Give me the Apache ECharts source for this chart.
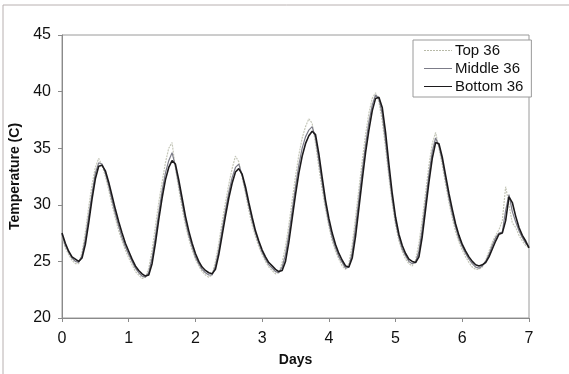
<!DOCTYPE html>
<html>
<head>
<meta charset="utf-8">
<script src="https://cdn.jsdelivr.net/npm/echarts@6/dist/echarts.min.js"></script>
<style>
  html, body { margin: 0; padding: 0; background: #fff; }
  #chart { width: 569px; height: 374px; }
</style>
</head>
<body>
<div id="chart"></div>
<script>
// Sampling step of the logged temperatures, in days
const STEP = 0.05;

// Temperature (C) readings, one row per half day
const top36 = [
  27.2, 26.2, 25.6, 25.1, 24.8, 24.8, 25.8, 27.6, 29.8, 31.8,
  33.3, 34.1, 33.5, 32.5, 31.3, 30.0, 28.8, 27.7, 26.8, 26.0,
  25.3, 24.7, 24.1, 23.8, 23.5, 23.6, 24.4, 26.0, 28.1, 30.2,
  32.0, 33.7, 35.0, 35.5, 33.2, 31.4, 29.7, 28.2, 27.0, 26.0,
  25.2, 24.6, 24.1, 23.8, 23.6, 23.8, 25.0, 26.6, 28.5, 30.2,
  31.8, 33.2, 34.3, 33.8, 32.4, 31.0, 29.5, 28.2, 27.2, 26.3,
  25.6, 25.0, 24.5, 24.2, 23.9, 24.0, 24.9, 26.3, 28.2, 30.4,
  32.5, 34.4, 35.9, 36.9, 37.6, 37.2, 35.4, 33.3, 31.3, 29.6,
  28.1, 26.8, 25.9, 25.2, 24.6, 24.3, 24.8, 26.5, 28.9, 31.4,
  33.9, 36.2, 38.1, 39.4, 39.9, 39.1, 37.4, 35.0, 32.4, 30.1,
  28.2, 26.8, 25.9, 25.2, 24.8, 24.6, 25.1, 26.6, 28.7, 31.1,
  33.5, 35.4, 36.4, 35.0, 33.5, 31.8, 30.2, 28.8, 27.6, 26.7,
  26.0, 25.4, 24.9, 24.5, 24.3, 24.3, 24.5, 25.1, 25.9, 26.7,
  27.3, 27.8, 28.6, 31.6, 30.0, 28.4, 28.0, 27.3, 26.8, 26.4,
  26.2
];

const middle36 = [
  27.4, 26.4, 25.8, 25.3, 25.0, 24.9, 25.5, 27.0, 29.0, 31.0,
  32.8, 33.7, 33.6, 32.8, 31.7, 30.4, 29.2, 28.1, 27.1, 26.3,
  25.6, 25.0, 24.4, 24.0, 23.7, 23.6, 24.0, 25.3, 27.2, 29.3,
  31.2, 32.8, 33.9, 34.6, 33.4, 31.8, 30.2, 28.6, 27.3, 26.3,
  25.4, 24.8, 24.3, 24.0, 23.8, 23.8, 24.6, 26.0, 27.8, 29.5,
  31.1, 32.4, 33.3, 33.6, 32.6, 31.3, 29.9, 28.6, 27.5, 26.6,
  25.8, 25.2, 24.7, 24.4, 24.1, 24.0, 24.5, 25.6, 27.4, 29.5,
  31.6, 33.5, 35.0, 36.0, 36.6, 36.9, 35.9, 33.9, 31.9, 30.0,
  28.4, 27.1, 26.2, 25.4, 24.9, 24.4, 24.5, 25.8, 28.0, 30.5,
  33.0, 35.3, 37.3, 38.8, 39.7, 39.4, 38.0, 35.6, 32.9, 30.5,
  28.5, 27.1, 26.1, 25.5, 25.0, 24.8, 24.9, 25.9, 27.9, 30.3,
  32.7, 34.7, 35.9, 35.2, 33.9, 32.2, 30.6, 29.2, 28.0, 27.0,
  26.3, 25.7, 25.2, 24.8, 24.5, 24.4, 24.6, 25.0, 25.6, 26.4,
  27.1, 27.5, 27.6, 29.5, 30.9, 29.4, 28.5, 27.7, 27.1, 26.6,
  26.3
];

const bottom36 = [
  27.5, 26.6, 25.9, 25.4, 25.2, 25.0, 25.3, 26.5, 28.4, 30.5,
  32.3, 33.4, 33.5, 33.0, 32.0, 30.8, 29.6, 28.5, 27.5, 26.6,
  25.9, 25.2, 24.6, 24.2, 23.9, 23.7, 23.8, 24.8, 26.6, 28.7,
  30.6, 32.2, 33.3, 33.9, 33.6, 32.2, 30.6, 29.0, 27.7, 26.6,
  25.7, 25.0, 24.5, 24.2, 24.0, 23.9, 24.3, 25.6, 27.3, 29.0,
  30.6, 31.9, 32.9, 33.2, 32.7, 31.6, 30.2, 28.9, 27.7, 26.8,
  26.0, 25.4, 24.9, 24.6, 24.3, 24.1, 24.2, 25.0, 26.7, 28.8,
  30.9, 32.8, 34.3, 35.4, 36.1, 36.5, 36.2, 34.5, 32.4, 30.4,
  28.8, 27.5, 26.5, 25.7, 25.1, 24.6, 24.5, 25.3, 27.2, 29.7,
  32.2, 34.6, 36.6, 38.3, 39.4, 39.5, 38.6, 36.4, 33.6, 31.0,
  28.9, 27.4, 26.4, 25.7, 25.2, 25.0, 24.9, 25.4, 27.2, 29.6,
  32.0, 34.1, 35.5, 35.4, 34.2, 32.6, 31.0, 29.6, 28.3, 27.3,
  26.5, 25.9, 25.4, 25.0, 24.7, 24.6, 24.7, 24.9, 25.4, 26.1,
  26.8, 27.4, 27.5, 28.6, 30.7, 30.2, 29.0, 28.0, 27.3, 26.8,
  26.2
];

const seriesNames = ['Top 36', 'Middle 36', 'Bottom 36'];

// Pair each reading with its time in days
const toPoints = vals => vals.map((v, i) => [+(i * STEP).toFixed(2), v]);

// Legend swatches: short horizontal strokes (dotted for the top sensor)
const SOLID_ICON = 'path://M0,0H28V1H0Z';
const DOTTED_ICON = 'path://M0,0H2V1H0ZM3,0H5V1H3ZM6,0H8V1H6ZM9,0H11V1H9ZM12,0H14V1H12ZM15,0H17V1H15ZM18,0H20V1H18ZM21,0H23V1H21ZM24,0H26V1H24ZM27,0H28V1H27Z';

const FONT = '"Liberation Sans", Arial, sans-serif';
const chart = echarts.init(document.getElementById('chart'), null, { renderer: 'canvas' });

chart.setOption({
  animation: false,
  backgroundColor: '#fff',
  graphic: [{
    type: 'rect',
    shape: { x: 3, y: 5, width: 600, height: 400 },
    style: { fill: 'none', stroke: '#b8b0b0', lineWidth: 1 },
    silent: true
  }],
  grid: {
    left: 62, right: 40, top: 35, bottom: 56,
    show: true, borderColor: '#9a9a9a', borderWidth: 1, backgroundColor: 'transparent'
  },
  legend: {
    orient: 'vertical',
    left: 413, top: 40,
    data: [
      { name: seriesNames[0], icon: DOTTED_ICON, itemStyle: { color: '#b8baa8' } },
      { name: seriesNames[1], icon: SOLID_ICON, itemStyle: { color: '#7c7c88' } },
      { name: seriesNames[2], icon: SOLID_ICON, itemStyle: { color: '#1c1a1c' } }
    ],
    backgroundColor: '#fff',
    borderColor: '#9a9a9a', borderWidth: 1, borderRadius: 0,
    padding: [3, 8, 3, 11],
    itemGap: 3,
    itemWidth: 28, itemHeight: 1.6,
    textStyle: { fontFamily: FONT, fontSize: 15, color: '#111', padding: [0, 0, 0, -2] }
  },
  xAxis: {
    type: 'value', min: 0, max: 7, interval: 1,
    name: 'Days', nameLocation: 'middle', nameGap: 35,
    nameTextStyle: { fontFamily: FONT, fontSize: 14, fontWeight: 'bold', color: '#111' },
    axisLine: { show: true, onZero: false, lineStyle: { color: '#8a8a8a', width: 1 } },
    axisTick: { show: true, inside: false, length: 4, lineStyle: { color: '#8a8a8a' } },
    axisLabel: { fontFamily: FONT, fontSize: 16, color: '#111', margin: 13 },
    splitLine: { show: false }
  },
  yAxis: {
    type: 'value', min: 20, max: 45, interval: 5,
    name: 'Temperature (C)', nameLocation: 'middle', nameGap: 34, nameRotate: 90,
    nameTextStyle: { fontFamily: FONT, fontSize: 14, fontWeight: 'bold', color: '#111' },
    axisLine: { show: true, lineStyle: { color: '#8a8a8a', width: 1 } },
    axisTick: { show: true, inside: false, length: 4, lineStyle: { color: '#8a8a8a' } },
    axisLabel: { fontFamily: FONT, fontSize: 16, color: '#111', margin: 11 },
    splitLine: { show: false }
  },
  series: [
    {
      name: seriesNames[0], type: 'line', data: toPoints(top36),
      symbol: 'none', z: 2,
      lineStyle: { color: '#c4c6b8', width: 1.2, type: [2, 1] }
    },
    {
      name: seriesNames[1], type: 'line', data: toPoints(middle36),
      symbol: 'none', z: 3,
      lineStyle: { color: '#7c7c88', width: 1.2 }
    },
    {
      name: seriesNames[2], type: 'line', data: toPoints(bottom36),
      symbol: 'none', z: 4,
      lineStyle: { color: '#1c1a1c', width: 1.6 }
    }
  ]
});
</script>
</body>
</html>
